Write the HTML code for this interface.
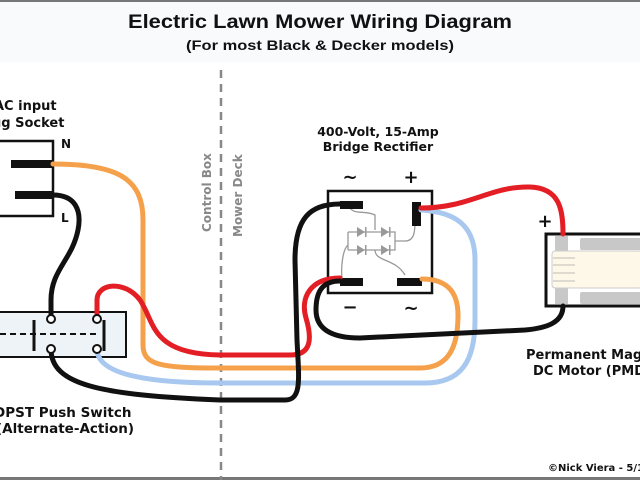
<!DOCTYPE html>
<html><head><meta charset="utf-8"><style>
html,body{margin:0;padding:0;background:#fff;}
svg{display:block;font-family:"DejaVu Sans","Liberation Sans",sans-serif;font-weight:bold;}
</style></head><body>
<svg width="640" height="480" viewBox="0 0 640 480" xmlns="http://www.w3.org/2000/svg">
<rect x="0" y="0" width="640" height="480" fill="#fff"/>
<rect x="0" y="0" width="640" height="62" fill="#f8fafc"/>
<rect x="0" y="0" width="640" height="2" fill="#777"/>
<rect x="0" y="477" width="640" height="3" fill="#777"/>
<text x="320" y="28" font-size="19" text-anchor="middle" fill="#111" font-family="Liberation Sans,sans-serif" textLength="384" lengthAdjust="spacingAndGlyphs">Electric Lawn Mower Wiring Diagram</text>
<text x="320" y="50" font-size="14" text-anchor="middle" fill="#111" font-family="Liberation Sans,sans-serif" textLength="268" lengthAdjust="spacingAndGlyphs">(For most Black &amp; Decker models)</text>

<line x1="221" y1="70" x2="221" y2="480" stroke="#888" stroke-width="2.5" stroke-dasharray="8,6"/>
<text transform="translate(211,232) rotate(-90)" font-size="12" fill="#888">Control Box</text>
<text transform="translate(242,237) rotate(-90)" font-size="12" fill="#888">Mower Deck</text>

<text x="-6" y="110" font-size="13" fill="#111">AC input</text>
<text x="-8" y="127" font-size="13" fill="#111">ug Socket</text>
<text x="61" y="148" font-size="12" fill="#111">N</text>
<text x="61" y="222" font-size="12" fill="#111">L</text>
<text x="-6" y="417" font-size="13.5" fill="#111">DPST Push Switch</text>
<text x="-4" y="433" font-size="13.5" fill="#111">(Alternate-Action)</text>
<text x="378" y="136" font-size="12.5" text-anchor="middle" fill="#111">400-Volt, 15-Amp</text>
<text x="378" y="151" font-size="12.5" text-anchor="middle" fill="#111">Bridge Rectifier</text>
<text x="526" y="359" font-size="13" fill="#111">Permanent Mag</text>
<text x="533" y="375" font-size="13" fill="#111">DC Motor (PMD</text>
<text x="548" y="471" font-size="10" fill="#111">©Nick Viera - 5/1</text>

<rect x="-5" y="141" width="58" height="75" fill="#fff" stroke="#111" stroke-width="2.5"/>
<rect x="11" y="160" width="42" height="8" fill="#111"/>
<rect x="15" y="191" width="38" height="8" fill="#111"/>

<rect x="-5" y="312" width="131" height="45" fill="#eef3f7" stroke="#111" stroke-width="2"/>
<line x1="0" y1="334" x2="100" y2="334" stroke="#111" stroke-width="2" stroke-dasharray="6,4"/>
<line x1="34" y1="320" x2="34" y2="351" stroke="#111" stroke-width="3"/>
<line x1="104" y1="320" x2="104" y2="351" stroke="#111" stroke-width="3"/>

<rect x="328" y="191" width="104" height="102" fill="#fff" stroke="#111" stroke-width="2.5"/>
<g stroke="#999" stroke-width="1.3" fill="none">
<path d="M350,208 C355,215 365,210 375,215 L375,230"/>
<path d="M348,232 L348,250 M348,232 L395,232 L395,250 L348,250"/>
<path d="M395,241 L405,241 C415,241 415,230 415,220"/>
<path d="M348,245 C342,250 341,270 342,278"/>
<path d="M375,250 C375,262 395,258 405,275"/>
</g>
<g fill="#999">
<polygon points="357,227 357,237 365,232"/><rect x="365" y="227" width="1.5" height="10"/>
<polygon points="381,227 381,237 389,232"/><rect x="389" y="227" width="1.5" height="10"/>
<polygon points="357,245 357,255 365,250"/><rect x="365" y="245" width="1.5" height="10"/>
<polygon points="381,245 381,255 389,250"/><rect x="389" y="245" width="1.5" height="10"/>
</g>
<rect x="340" y="201" width="23" height="8" fill="#111"/>
<rect x="412" y="202" width="9" height="24" fill="#111"/>
<rect x="340" y="278" width="23" height="8" fill="#111"/>
<rect x="397" y="278" width="25" height="8" fill="#111"/>
<text x="350" y="183" font-size="18" text-anchor="middle" fill="#111">∼</text>
<text x="411" y="183" font-size="18" text-anchor="middle" fill="#111">+</text>
<text x="350" y="313" font-size="18" text-anchor="middle" fill="#111">−</text>
<text x="411" y="314" font-size="18" text-anchor="middle" fill="#111">∼</text>

<rect x="546" y="234" width="100" height="72" fill="#fff" stroke="#111" stroke-width="3"/>
<rect x="555" y="236" width="13" height="68" fill="#c8c8c8"/>
<rect x="580" y="238" width="62" height="12" rx="2" fill="#c8c8c8"/>
<rect x="580" y="292" width="62" height="12" rx="2" fill="#c8c8c8"/>
<rect x="552" y="251" width="90" height="37" rx="3" fill="#fdf8e8" stroke="#ccc" stroke-width="1"/>
<g stroke="#aaa" stroke-width="0.8"><line x1="553" y1="258" x2="575" y2="258"/><line x1="553" y1="265" x2="575" y2="265"/><line x1="553" y1="273" x2="575" y2="273"/><line x1="553" y1="281" x2="575" y2="281"/></g>
<text x="545" y="227" font-size="18" text-anchor="middle" fill="#111">+</text>

<g fill="none" stroke-width="5" stroke-linecap="round">
<path stroke="#f5a04a" d="M53,164 C120,164 143,180 143,220 L143,345 C143,365 160,368 220,368 L420,368 C450,368 458,345 458,315 C458,290 445,279 422,279"/>
<path stroke="#a8c8ef" d="M97,349 C97,375 150,383 220,383 L425,383 C462,383 475,360 475,320 L475,260 C475,225 455,212 421,210"/>
<path stroke="#e31e24" d="M97,319 L97,300 C97,283 125,280 140,300 C155,322 150,354 220,355 L290,355 C312,355 312,338 306,318 C300,298 310,278 340,278"/>
<path stroke="#e31e24" d="M421,208 C470,208 490,186 530,187 C560,188 563,210 563,234"/>
<path stroke="#111" d="M53,195 C75,195 82,210 78,230 C72,260 51,270 51,300 L51,319"/>
<path stroke="#111" d="M51,349 C51,385 100,395 220,400 L285,400 C302,400 299,380 297,340 L295,260 C295,218 310,204 340,204"/>
<path stroke="#111" d="M340,281 C322,281 316,292 316,310 C316,328 330,338 360,338 L525,330 C548,328 563,322 563,306"/>
</g>
<g fill="#fff" stroke="#111" stroke-width="2">
<circle cx="51" cy="319" r="4"/><circle cx="97" cy="319" r="4"/>
<circle cx="51" cy="349" r="4"/><circle cx="97" cy="349" r="4"/>
</g>
</svg>
</body></html>
